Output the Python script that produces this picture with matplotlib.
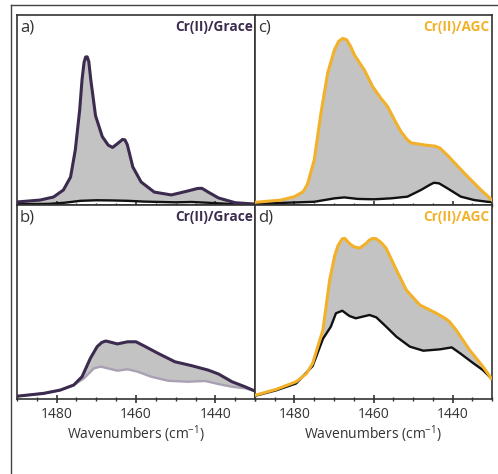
import matplotlib
matplotlib.use('agg')
import matplotlib.pyplot as plt
from matplotlib.lines import Line2D
from matplotlib.ticker import MultipleLocator

plt.rcParams['font.family'] = ['Open Sans', 'DejaVu Sans']
plt.rcParams['mathtext.fontset'] = 'custom'
plt.rcParams['mathtext.rm'] = 'Open Sans'
plt.rcParams['mathtext.it'] = 'Open Sans'

# a) Cr(II)/Grace - last spectrum (top) and first spectrum (bottom)
a_top_x = [1490, 1484.2, 1480.8, 1478.3, 1476.5, 1475.3, 1474.2, 1473.6, 1473.1, 1472.7,
           1472.3, 1471.9, 1471.4, 1470.2, 1468.5, 1467, 1465.9, 1464.5, 1463.4, 1462.8,
           1462.2, 1460.8, 1458.7, 1455.4, 1451.1, 1446.9, 1444.5, 1443.4, 1441.8, 1439.2,
           1435, 1430]
a_top_y = [0.016, 0.026, 0.042, 0.079, 0.147, 0.29, 0.5, 0.66, 0.75, 0.779,
           0.78, 0.755, 0.66, 0.47, 0.36, 0.315, 0.303, 0.326, 0.345, 0.343,
           0.318, 0.2, 0.121, 0.068, 0.053, 0.074, 0.087, 0.088, 0.068, 0.037,
           0.012, 0.005]
a_bot_x = [1490, 1482, 1478, 1474, 1470, 1466, 1462, 1458, 1454, 1450, 1446, 1442, 1436, 1430]
a_bot_y = [0.004, 0.006, 0.012, 0.022, 0.025, 0.024, 0.022, 0.018, 0.016, 0.014, 0.016, 0.012, 0.005, 0.002]

# b) Cr(II)/Grace
b_top_x = [1489.7, 1483.3, 1479.1, 1475.7, 1473.6, 1471.5, 1469.8, 1468.6, 1467.6, 1466.2,
           1464.7, 1463.3, 1462.1, 1460, 1457.9, 1454.5, 1450.2, 1446, 1441.8, 1439.2,
           1435.8, 1432.5, 1430]
b_top_y = [0.015, 0.029, 0.046, 0.072, 0.115, 0.21, 0.27, 0.292, 0.299, 0.292,
           0.284, 0.29, 0.295, 0.295, 0.273, 0.236, 0.192, 0.172, 0.149, 0.129,
           0.089, 0.063, 0.041]
b_bot_x = [1489.7, 1483.3, 1479.1, 1475.7, 1473.1, 1470.6, 1468.9, 1464.7, 1462.1, 1459.6,
           1456.2, 1451.9, 1446.9, 1442.6, 1439.2, 1435.8, 1432.5, 1430]
b_bot_y = [0.015, 0.029, 0.046, 0.072, 0.107, 0.158, 0.167, 0.146, 0.153, 0.141,
           0.115, 0.094, 0.089, 0.093, 0.077, 0.063, 0.055, 0.041]

# c) Cr(II)/AGC
c_top_x = [1490, 1483.4, 1480, 1477.8, 1476.7, 1475, 1473.3, 1471.6, 1469.9, 1468.8,
           1467.8, 1466.8, 1465.8, 1464.8, 1462.3, 1460.2, 1458.1, 1456.4, 1454.5, 1453,
           1451.5, 1450.5, 1447.1, 1444.5, 1443.2, 1441.2, 1437, 1432.8, 1430]
c_top_y = [0.014, 0.026, 0.044, 0.07, 0.11, 0.237, 0.484, 0.695, 0.816, 0.862,
           0.877, 0.87, 0.835, 0.789, 0.71, 0.623, 0.561, 0.517, 0.44, 0.385,
           0.345, 0.327, 0.316, 0.31, 0.3, 0.26, 0.167, 0.079, 0.026]
c_bot_x = [1490, 1479.1, 1475, 1469.9, 1467.4, 1464, 1459.8, 1455.6, 1451.4, 1448,
           1445.6, 1444.7, 1443.4, 1441.3, 1437.9, 1434.5, 1431.2, 1430]
c_bot_y = [0.006, 0.014, 0.017, 0.035, 0.04, 0.032, 0.03, 0.035, 0.044, 0.079,
           0.108, 0.117, 0.114, 0.088, 0.044, 0.026, 0.017, 0.015]

# d) Cr(II)/AGC
d_top_x = [1489.7, 1484.6, 1479.6, 1477, 1475.4, 1472.8, 1471.1, 1469.8, 1469, 1467.9,
           1467.3, 1466.1, 1465, 1463.5, 1462, 1461, 1460.2, 1459.3, 1458, 1456.8,
           1454.2, 1451.7, 1448.3, 1444.1, 1441.8, 1440.8, 1439.1, 1435.7, 1432.3, 1430.2]
d_top_y = [0.021, 0.05, 0.089, 0.13, 0.184, 0.356, 0.613, 0.74, 0.79, 0.826,
           0.828, 0.802, 0.785, 0.778, 0.8, 0.82, 0.828, 0.826, 0.805, 0.777,
           0.665, 0.562, 0.485, 0.442, 0.415, 0.399, 0.356, 0.253, 0.167, 0.107]
d_bot_x = [1489.7, 1484.6, 1479.6, 1475.4, 1472.8, 1470.8, 1469.5, 1467.9, 1466.1, 1464.5,
           1461, 1459.3, 1456.8, 1454.2, 1450.8, 1447.4, 1443.2, 1440.2, 1438.1, 1434.7,
           1432.3, 1430.2]
d_bot_y = [0.018, 0.045, 0.08, 0.17, 0.31, 0.373, 0.442, 0.455, 0.428, 0.416,
           0.433, 0.421, 0.373, 0.321, 0.27, 0.249, 0.256, 0.266, 0.236, 0.184,
           0.149, 0.107]

purple = '#3b2b4e'
gold = '#f2b128'
gray = '#c3c3c3'
frame = '#333333'

fig = plt.figure(figsize=(4.98, 4.74), dpi=100)

positions = {
    'a': [0.0341, 0.5675, 0.478, 0.4008],
    'c': [0.512, 0.5675, 0.476, 0.4008],
    'b': [0.0341, 0.1582, 0.478, 0.4093],
    'd': [0.512, 0.1582, 0.476, 0.4093],
}
panels = {
    'a': (a_top_x, a_top_y, a_bot_x, a_bot_y, purple, 'Cr(II)/Grace', '#111111'),
    'b': (b_top_x, b_top_y, b_bot_x, b_bot_y, purple, 'Cr(II)/Grace', '#a9a1b3'),
    'c': (c_top_x, c_top_y, c_bot_x, c_bot_y, gold, 'Cr(II)/AGC', '#111111'),
    'd': (d_top_x, d_top_y, d_bot_x, d_bot_y, gold, 'Cr(II)/AGC', '#111111'),
}

for key, (tx, ty, bx, by, col, name, bcol) in panels.items():
    ax = fig.add_axes(positions[key])
    # grey band of the intermediate spectra
    ax.fill(list(tx) + list(bx[::-1]), list(ty) + list(by[::-1]),
            color=gray, lw=0, zorder=1)
    ax.plot(bx, by, color=bcol, lw=1.7, zorder=2, solid_joinstyle='round')
    ax.plot(tx, ty, color=col, lw=2.2, zorder=3, solid_joinstyle='round')
    ax.set_xlim(1490, 1430)
    ax.set_ylim(0, 1.0)
    ax.set_yticks([])
    ax.xaxis.set_major_locator(MultipleLocator(20))
    ax.xaxis.set_minor_locator(MultipleLocator(5))
    ax.tick_params(axis='x', which='major', direction='inout', length=6, width=1.2,
                   color=frame, labelsize=10, labelcolor='#333333', pad=3)
    ax.tick_params(axis='x', which='minor', direction='inout', length=3, width=1.0,
                   color=frame)
    for s in ax.spines.values():
        s.set_color(frame)
        s.set_linewidth(1.2)
    if key in 'ac':
        ax.tick_params(axis='x', labelbottom=False)
    else:
        ax.set_xlabel('Wavenumbers (cm$^{-1}$)', fontsize=10, color='#333333', labelpad=1)
    ax.text(0.012, 0.975, key + ')', transform=ax.transAxes, ha='left', va='top',
            fontsize=12, color='#333333')
    ax.text(0.99, 0.975, name, transform=ax.transAxes, ha='right', va='top',
            fontsize=9.8, fontweight='bold', color=col)

# outer frame of the figure
fig.add_artist(Line2D([0.0221, 0.0221], [0.0, 0.9895], color='#444444', lw=1.0))
fig.add_artist(Line2D([0.0221, 1.0], [0.9895, 0.9895], color='#444444', lw=1.0))

fig.savefig('out.png', dpi=100)
